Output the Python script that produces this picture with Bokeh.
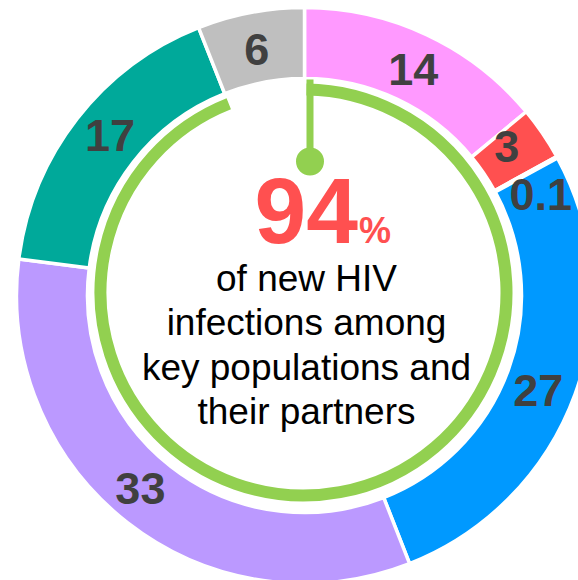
import math
from bokeh.plotting import figure
from bokeh.models import Range1d
from bokeh.core.properties import value
from bokeh.embed import file_html
from bokeh.resources import INLINE

# ---- data ----
labels = ["14", "3", "0.1", "27", "33", "17", "6"]
values = [14, 3, 0.1, 27, 33, 17, 6]
colors = ["#FF99FF", "#FF5050", "#FFC000", "#0099FF", "#BB99FF", "#00A99A", "#BFBFBF"]
share = 94
headline = "94"
headline_unit = "%"
caption = ["of new HIV", "infections among", "key populations and", "their partners"]

# ---- layout / style ----
W, H = 578, 580
def Y(sy):
    return H - sy

FONT = value("Liberation Sans")
GREEN = "#92D050"
LABEL_COLOR = "#404040"

cx, cy = 304, Y(295)
r_in, r_out = 217, 288
gcx, gcy, g_r = 303, Y(292), 203

p = figure(width=W, height=H, x_range=Range1d(0, W), y_range=Range1d(0, H),
           output_backend="svg", toolbar_location=None, min_border=0)
p.axis.visible = False
p.grid.visible = False
p.outline_line_color = None
p.background_fill_color = "white"
p.border_fill_color = "white"

total = sum(values)
starts, ends, mids = [], [], []
acc = 0.0
for v in values:
    a0 = acc / total * 360.0
    acc += v
    a1 = acc / total * 360.0
    starts.append(math.radians(90 - a0))
    ends.append(math.radians(90 - a1))
    mids.append((a0 + a1) / 2)

p.annular_wedge(x=[cx] * len(values), y=[cy] * len(values), inner_radius=r_in, outer_radius=r_out,
                start_angle=starts, end_angle=ends, direction="clock",
                fill_color=colors, line_color="white", line_width=3.5)

# green 94% arc
x_line = 309.5
a_start = 90 - math.degrees(math.asin((x_line - 3.5 - gcx) / g_r))
a_end = 90 - share / 100 * 360
p.arc(x=[gcx], y=[gcy], radius=g_r, start_angle=[math.radians(a_start)], end_angle=[math.radians(a_end)],
      direction="clock", line_color=GREEN, line_width=12, line_cap="butt")
p.segment(x0=[x_line], y0=[Y(79)], x1=[x_line], y1=[Y(161)], line_color=GREEN, line_width=7)
p.scatter(x=[x_line], y=[Y(161)], size=28, fill_color=GREEN, line_color=None)

# segment labels: (angle nudge in degrees, radius nudge in px)
nudge = {"14": (0.5, -1), "3": (-2.1, -1), "0.1": (5.5, 5), "27": (2.1, 0.5),
         "33": (2.5, 1), "17": (1.6, 0), "6": (-0.2, -1)}
lx, ly = [], []
for lab, m in zip(labels, mids):
    da, dr = nudge.get(lab, (0, 0))
    ang = math.radians(m + da)
    rr = 252 + dr
    lx.append(cx + rr * math.sin(ang))
    ly.append(cy + rr * math.cos(ang))
p.text(x=lx, y=ly, text=labels, text_align="center", text_baseline="alphabetic",
       text_font=FONT, text_font_style="bold", text_font_size="45px", text_color=LABEL_COLOR)

# headline
p.text(x=[357.5], y=[Y(210)], text=[headline], text_align="right", text_baseline="alphabetic",
       text_font=FONT, text_font_style="bold", text_font_size="93px", text_color="#FF5050")
p.text(x=[358.5], y=[Y(230)], text=[headline_unit], text_align="left", text_baseline="alphabetic",
       text_font=FONT, text_font_style="bold", text_font_size="36px", text_color="#FF5050")

# caption
base = [291, 335, 380, 424]
p.text(x=[306] * len(caption), y=[Y(b - 13) for b in base], text=caption, text_align="center",
       text_baseline="alphabetic", text_font=FONT, text_font_size="37px", text_color="black")

open("out.html", "w").write(file_html(p, INLINE))
